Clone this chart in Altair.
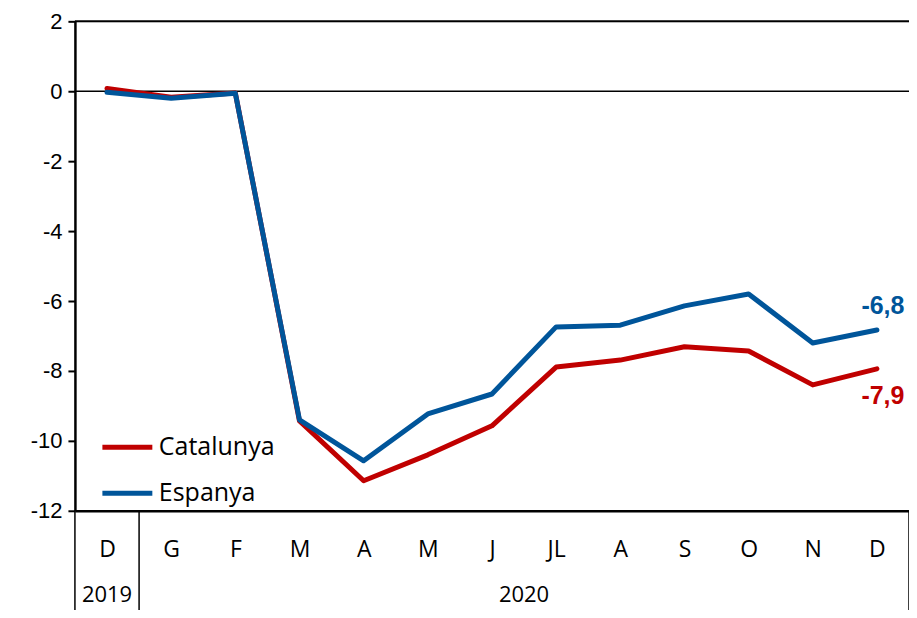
import altair as alt
import pandas as pd

months = ["D", "G", "F", "M", "A", "M", "J", "JL", "A", "S", "O", "N", "D"]
catalunya = [0.08, -0.17, -0.05, -9.43, -11.14, -10.40, -9.57, -7.89, -7.69, -7.31, -7.43, -8.40, -7.94]
espanya = [-0.03, -0.20, -0.06, -9.40, -10.57, -9.23, -8.66, -6.74, -6.69, -6.14, -5.80, -7.20, -6.83]
series_names = ["Catalunya", "Espanya"]
series_colors = ["#C00000", "#00559A"]
end_labels = ["-7,9", "-6,8"]
years = ["2019", "2020"]
year_pos = [0, 6.5]
separators = [-0.5, 0.5, 12.5]
frame_values = [2]

rows = []
for i, m in enumerate(months):
    rows.append({"i": i, "serie": "Catalunya", "v": catalunya[i]})
    rows.append({"i": i, "serie": "Espanya", "v": espanya[i]})
df = pd.DataFrame(rows)

W, H = 835, 490
xscale = alt.Scale(domain=[-0.5, 12.5], nice=False, zero=False)
yscale = alt.Scale(domain=[-12, 2], nice=False, zero=False)

label_expr = "[" + ",".join("'" + m + "'" for m in months) + "][datum.value]"

base = alt.Chart(df)

lines = base.mark_line(strokeWidth=5, strokeCap="round", strokeJoin="round").encode(
    x=alt.X("i:Q", scale=xscale,
            axis=alt.Axis(values=list(range(13)), labelExpr=label_expr, ticks=False, grid=False,
                          domainColor="black", domainWidth=2.5, labelFont="Open Sans",
                          labelFontSize=23, labelColor="black", labelPadding=39,
                          labelBaseline="middle", title=None, labelFlush=False)),
    y=alt.Y("v:Q", scale=yscale,
            axis=alt.Axis(values=list(range(-12, 3, 2)), labelExpr="'' + datum.value", grid=False,
                          tickSize=7, tickColor="black", tickWidth=2, domainColor="black",
                          domainWidth=2.5, labelFont="Liberation Sans", labelFontSize=22,
                          labelColor="black", labelPadding=6, title=None)),
    color=alt.Color("serie:N", scale=alt.Scale(domain=series_names, range=series_colors),
                    legend=alt.Legend(orient="none", legendX=25, legendY=399, title=None,
                                      symbolType="stroke", symbolStrokeWidth=5, symbolSize=2500,
                                      labelFont="Open Sans", labelFontSize=25, labelColor="black",
                                      rowPadding=5, labelOffset=4)),
    order="i:Q",
)

zero = alt.Chart(pd.DataFrame({"z": [0]})).mark_rule(color="black", strokeWidth=1.5).encode(
    y=alt.Y("z:Q", scale=yscale)
)
top = alt.Chart(pd.DataFrame({"z": frame_values})).mark_rule(color="black", strokeWidth=2).encode(
    y=alt.Y("z:Q", scale=yscale)
)

end_df = pd.DataFrame({
    "i": [12, 12],
    "v": [catalunya[-1], espanya[-1]],
    "serie": series_names,
    "t": end_labels,
})
end_text_c = alt.Chart(end_df[end_df.serie == "Catalunya"]).mark_text(
    font="Liberation Sans", fontWeight="bold", fontSize=25, dx=6, dy=27, color="#C00000"
).encode(x=alt.X("i:Q", scale=xscale), y=alt.Y("v:Q", scale=yscale), text="t:N")
end_text_e = alt.Chart(end_df[end_df.serie == "Espanya"]).mark_text(
    font="Liberation Sans", fontWeight="bold", fontSize=25, dx=6, dy=-24, color="#00559A"
).encode(x=alt.X("i:Q", scale=xscale), y=alt.Y("v:Q", scale=yscale), text="t:N")

sep = alt.Chart(pd.DataFrame({"s": separators})).mark_rule(color="black", strokeWidth=1.5).encode(
    x=alt.X("s:Q", scale=xscale), y=alt.value(H), y2=alt.value(H + 110)
)

yr = alt.Chart(pd.DataFrame({"p": year_pos, "t": years})).mark_text(
    font="Open Sans", fontSize=22, color="black", baseline="middle"
).encode(x=alt.X("p:Q", scale=xscale), y=alt.value(H + 84), text="t:N")

chart = alt.layer(zero, top, lines, end_text_c, end_text_e, sep, yr).properties(
    width=W, height=H,
    autosize=alt.AutoSizeParams(type="none"),
    padding={"left": 67, "top": 13, "right": 0, "bottom": 99},
).configure_view(stroke="black", strokeWidth=2).configure(background="white")

chart.save("out.html", embed_options={"renderer": "svg", "actions": False})
